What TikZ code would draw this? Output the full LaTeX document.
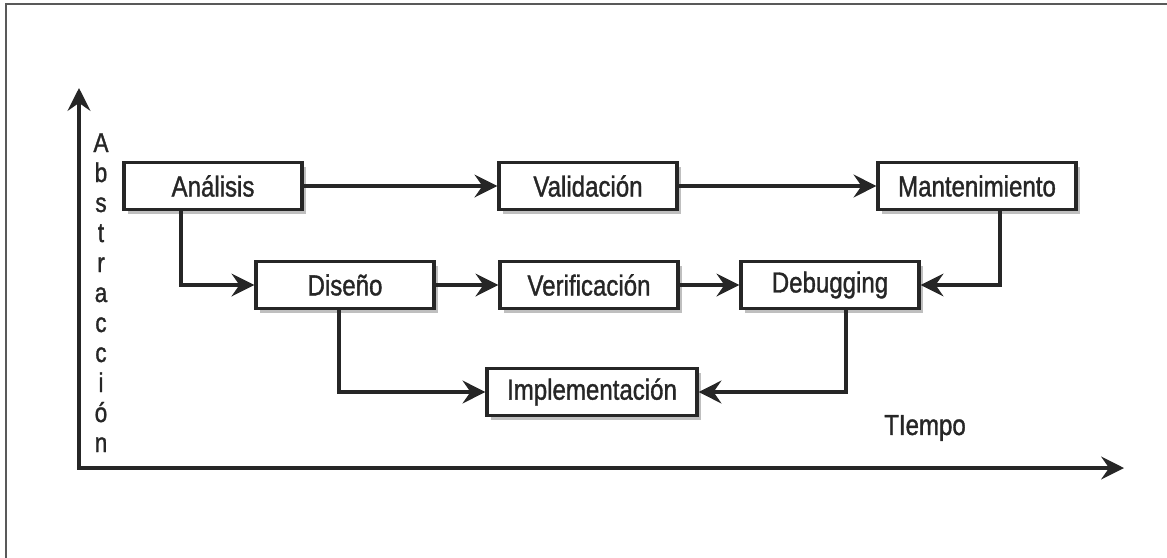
\documentclass[tikz,border=0pt]{standalone}
\usepackage{fontspec}
\newfontfamily\boxfont{Liberation Sans}[FakeStretch=0.83,FakeBold=1.2]
\usetikzlibrary{arrows.meta,shadows}

\tikzset{
  stage/.style={draw=black!85, line width=1.9pt, fill=white, rectangle,
    minimum width=3.56cm, minimum height=0.94cm, inner xsep=0.4cm,
    text=black!85, font=\boxfont\fontsize{16.5}{20}\selectfont,
    drop shadow={shadow xshift=2.5pt, shadow yshift=-2.5pt, fill=black, opacity=0.25}},
  flow/.style={->, draw=black!85, line width=1.8pt},
  axis/.style={draw=black!85, line width=1.9pt},
  >={Stealth[length=13pt,width=13pt,inset=4.5pt]}
}

\begin{document}
\begin{tikzpicture}[x=0.02cm,y=-0.02cm]
    \useasboundingbox (0,0) rectangle (1167,558);
    % marco
    \draw[black!65, line width=1.1pt] (6,558) -- (6,4) -- (1167,4);

    % ejes
    \coordinate (top) at (79,88);
    \coordinate (origin) at (79,468);
    \coordinate (right) at (1124,468);
    \draw[axis,<->] (top) -- (origin) -- (right);
    \foreach \letra [count=\i] in {A,b,s,t,r,a,c,c,i,ó,n}
        \node[anchor=base, text=black!85, inner sep=0pt,
              font=\boxfont\fontsize{15.5}{18}\selectfont]
            (eje\i) at (101,{122+30*\i}) {\letra};
    \node[text=black!85, font=\boxfont\fontsize{16.5}{20}\selectfont]
        (tiempo) at (925,428) {TIempo};

    % etapas
    \node[stage] (ana) at (213,186) {Análisis};
    \node[stage] (val) at (588,186) {Validación};
    \node[stage] (man) at (977,186) {Mantenimiento};
    \node[stage] (dis) at (345,285) {Diseño};
    \node[stage] (ver) at (589,285) {Verificación};
    \node[stage] (deb) at (830,285) {Debugging};
    \node[stage] (imp) at (592,392) {Implementación};

    % flujos
    \draw[flow] (ana) -- (val);
    \draw[flow] (val) -- (man);
    \draw[flow] ([xshift=-0.64cm]ana.south) |- (dis);
    \draw[flow] (dis) -- (ver);
    \draw[flow] (ver) -- (deb);
    \draw[flow] ([xshift=0.46cm]man.south) |- (deb);
    \draw[flow] ([xshift=-0.12cm]dis.south) |- (imp);
    \draw[flow] ([xshift=0.32cm]deb.south) |- (imp);
\end{tikzpicture}
\end{document}
